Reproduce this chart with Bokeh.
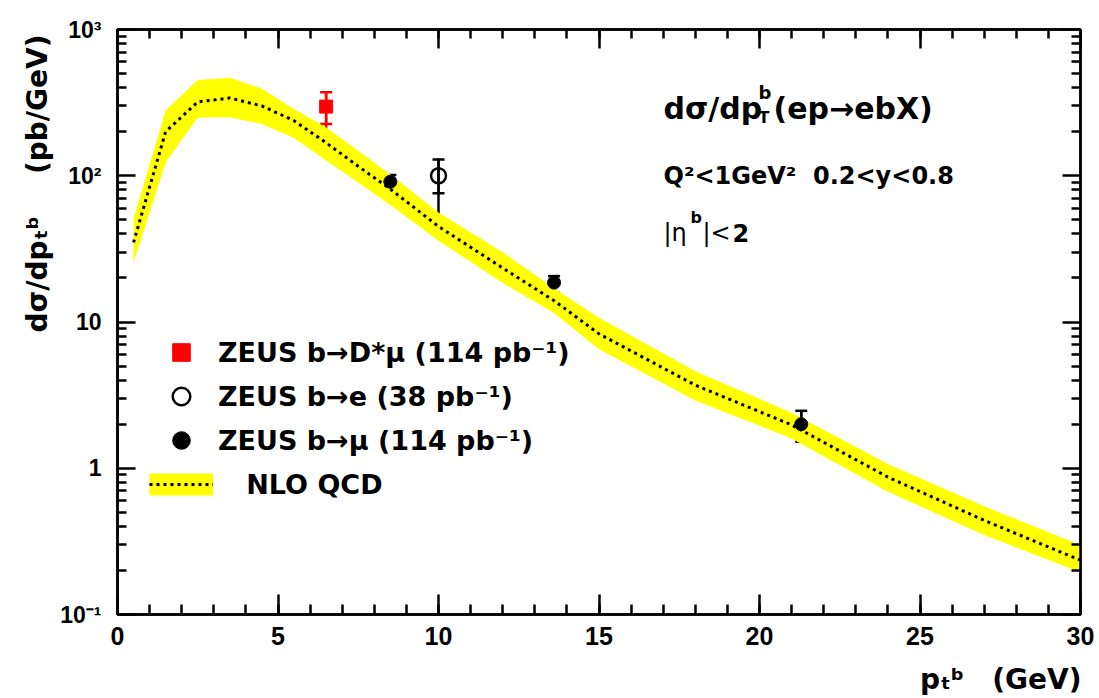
from math import pi
from bokeh.plotting import figure
from bokeh.models import (Range1d, LinearAxis, LogAxis, FixedTicker, Label, Legend,
                          LegendItem, ColumnDataSource, Whisker, TeeHead)
from bokeh.embed import file_html
from bokeh.resources import INLINE

# ---------------- data ----------------
# NLO QCD prediction (central value and uncertainty band), pb/GeV
nlo_pt      = [0.5, 1.5, 2.5, 3.5, 4.5, 5.5, 6.5, 7.5, 8.5, 10.0, 12.0, 13.6, 15.0, 18.0, 21.0, 24.0, 27.0, 30.0]
nlo_central = [35, 200, 320, 340, 300, 238, 168, 116, 81, 45, 23.4, 14.0, 8.3, 3.7, 1.98, 0.87, 0.44, 0.235]
nlo_upper   = [51, 279, 452, 467, 393, 286, 214, 148, 102, 56, 30.0, 17.0, 10.7, 4.6, 2.4, 1.07, 0.55, 0.298]
nlo_lower   = [25.5, 123, 250, 251, 226, 181, 127, 90, 63, 36, 18.5, 11.5, 6.5, 2.9, 1.6, 0.69, 0.35, 0.194]

# ZEUS b -> D* mu (114 pb-1)
dmu_pt      = [6.5]
dmu_xs      = [297]
dmu_stat_lo = [226]
dmu_stat_hi = [372]
dmu_tot_lo  = [203]
dmu_tot_hi  = [380]

# ZEUS b -> e (38 pb-1)
e_pt      = [10.0]
e_xs      = [100]
e_stat_lo = [76]
e_stat_hi = [129]
e_tot_lo  = [53]
e_tot_hi  = [131]

# ZEUS b -> mu (114 pb-1)
mu_pt      = [8.5, 13.6, 21.3]
mu_xs      = [91, 18.6, 2.0]
mu_stat_lo = [78, 15.8, 1.52]
mu_stat_hi = [101, 20.6, 2.47]
mu_tot_lo  = [77, 13.6, 1.52]
mu_tot_hi  = [102, 20.8, 2.47]

x_ticks = [0, 5, 10, 15, 20, 25, 30]
x_minor = list(range(0, 31))
y_ticks = [0.1, 1, 10, 100, 1000]
y_minor = [k * 10.0 ** d for d in range(-1, 3) for k in range(2, 10)]
y_tick_labels = ["10\u207b\u00b9", "1", "10", "10\u00b2", "10\u00b3"]

legend_labels = ["ZEUS b\u2192D*\u03bc (114 pb\u207b\u00b9)",
                 "ZEUS b\u2192e (38 pb\u207b\u00b9)",
                 "ZEUS b\u2192\u03bc (114 pb\u207b\u00b9)",
                 "\u00a0\u00a0\u00a0NLO QCD"]

y_title = "d\u03c3/dp\u209c\u1d47\u2003\u2002(pb/GeV)"
x_title = "p\u209c\u1d47\u2002\u2002(GeV)"

# ---------------- figure ----------------
W, H = 1096, 696
FL, FT, FR, FB = 117, 29, 1080, 614   # frame edges on the page
p = figure(width=W, height=H, x_range=Range1d(0, 30), y_range=Range1d(0.1, 1000),
           y_axis_type="log", output_backend="svg", toolbar_location=None,
           min_border_left=FL, min_border_right=W - FR, min_border_top=FT,
           min_border_bottom=H - FB)
p.xgrid.visible = False
p.ygrid.visible = False
p.outline_line_color = "black"
p.outline_line_width = 2.5
p.background_fill_color = "white"
p.border_fill_color = "white"

def style_axis(ax, major_in, minor_in, ticks, show_labels):
    ax.axis_line_width = 2.5
    ax.axis_line_color = "black"
    ax.major_tick_line_width = 2.5
    ax.minor_tick_line_width = 2.5
    ax.major_tick_line_color = "black"
    ax.minor_tick_line_color = "black"
    ax.major_tick_in = major_in
    ax.major_tick_out = 0
    ax.minor_tick_in = minor_in
    ax.minor_tick_out = 0
    if not show_labels:
        ax.major_label_overrides = {t: "" for t in ticks}
        ax.major_label_text_font_size = "2px"
        ax.major_label_standoff = 0

xticker = FixedTicker(ticks=x_ticks, minor_ticks=x_minor)
yticker = FixedTicker(ticks=y_ticks, minor_ticks=y_minor)

p.xaxis.ticker = xticker
p.yaxis.ticker = yticker
style_axis(p.xaxis[0], 20, 10, x_ticks, True)
style_axis(p.yaxis[0], 18, 9, y_ticks, True)
for ax, size, standoff in ((p.xaxis[0], "25px", 12), (p.yaxis[0], "23px", 16)):
    ax.major_label_text_font = "Liberation Sans"
    ax.major_label_text_font_style = "bold"
    ax.major_label_text_font_size = size
    ax.major_label_text_color = "black"
    ax.major_label_standoff = standoff
p.yaxis[0].major_label_overrides = dict(zip(y_ticks, y_tick_labels))

top_ax = LinearAxis(ticker=xticker)
style_axis(top_ax, 19, 9, x_ticks, False)
p.add_layout(top_ax, "above")
right_ax = LogAxis(ticker=yticker)
style_axis(right_ax, 18, 9, y_ticks, False)
p.add_layout(right_ax, "right")

# ---------------- NLO band ----------------
p.varea(x=nlo_pt, y1=nlo_lower, y2=nlo_upper, fill_color="#ffff00", fill_alpha=1.0)
r_nlo = p.line(x=nlo_pt, y=nlo_central, line_color="black", line_width=3, line_dash="3 4")
# legend-only swatch for the band (hidden in the plot area)
r_band_leg = p.line(x=nlo_pt, y=nlo_central, line_color="#ffff00", line_width=22, visible=False)

# ---------------- data points ----------------
def add_errors(pt, lo, hi, color, caps):
    src = ColumnDataSource(dict(x=pt, lo=lo, hi=hi))
    head = (lambda: TeeHead(size=12, line_width=2.5, line_color=color)) if caps else (lambda: None)
    p.add_layout(Whisker(source=src, base="x", lower="lo", upper="hi", dimension="height",
                         line_color=color, line_width=2.5,
                         lower_head=head(), upper_head=head()))

add_errors(dmu_pt, dmu_tot_lo, dmu_tot_hi, "red", False)
add_errors(dmu_pt, dmu_stat_lo, dmu_stat_hi, "red", True)
add_errors(e_pt, e_tot_lo, e_tot_hi, "black", False)
add_errors(e_pt, e_stat_lo, e_stat_hi, "black", True)
add_errors(mu_pt, mu_tot_lo, mu_tot_hi, "black", False)
add_errors(mu_pt, mu_stat_lo, mu_stat_hi, "black", True)

r_dmu = p.scatter(x=dmu_pt, y=dmu_xs, marker="square", size=13, fill_color="red", line_color="red")
r_e = p.scatter(x=e_pt, y=e_xs, marker="circle", size=15, fill_color=None,
                line_color="black", line_width=2.5)
r_mu = p.scatter(x=mu_pt, y=mu_xs, marker="circle", size=13, fill_color="black", line_color="black")

# ---------------- legend ----------------
legend = Legend(items=[LegendItem(label=legend_labels[0], renderers=[r_dmu]),
                       LegendItem(label=legend_labels[1], renderers=[r_e]),
                       LegendItem(label=legend_labels[2], renderers=[r_mu]),
                       LegendItem(label=legend_labels[3], renderers=[r_band_leg, r_nlo])],
                location=(32, 108), glyph_width=64, glyph_height=44, spacing=0, padding=0,
                margin=0, label_standoff=5, border_line_color=None, background_fill_alpha=0,
                label_text_font="DejaVu Sans", label_text_font_style="bold",
                label_text_font_size="27px", label_text_color="black", label_height=44)
p.add_layout(legend)

# ---------------- texts ----------------
# inside the frame: screen units from the frame's bottom-left corner
def put(text, px, py, size, bold=True, font="DejaVu Sans", align="left",
        baseline="alphabetic", angle=0.0):
    p.add_layout(Label(x=px - FL, y=FB - py, x_units="screen", y_units="screen", text=text,
                       text_font=font, text_font_size=f"{size}px",
                       text_font_style="bold" if bold else "normal",
                       text_align=align, text_baseline=baseline, angle=angle,
                       text_color="black"))

# axis titles: outside the frame, so they live in the side panels
p.add_layout(Label(x=0, y=1000, x_units="data", y_units="data",
                   x_offset=37 - FL, y_offset=FT - 332, angle=pi / 2, text=y_title,
                   text_font="DejaVu Sans", text_font_size="28px", text_font_style="bold",
                   text_align="left", text_baseline="alphabetic", text_color="black"), "left")
p.add_layout(Label(x=30, y=1000, x_units="data", y_units="data",
                   x_offset=1, y_offset=FT - 679, text=x_title,
                   text_font="DejaVu Sans", text_font_size="28px", text_font_style="bold",
                   text_align="right", text_baseline="alphabetic", text_color="black"), "below")

# physics annotations
put("d\u03c3/dp", 663, 108, 30)
put("b", 758, 92, 18)
put("T", 758, 117, 16)
put("(ep\u2192ebX)", 773, 108, 30)
put("Q\u00b2<1GeV\u00b2 \u00a00.2<y<0.8", 663, 175, 24)
put("|\u03b7", 663, 232, 24, bold=False)
put("b", 690, 217, 16)
put("|<", 702, 232, 24, bold=False)
put("2", 732, 232, 24)

open("out.html", "w").write(file_html(p, INLINE))
